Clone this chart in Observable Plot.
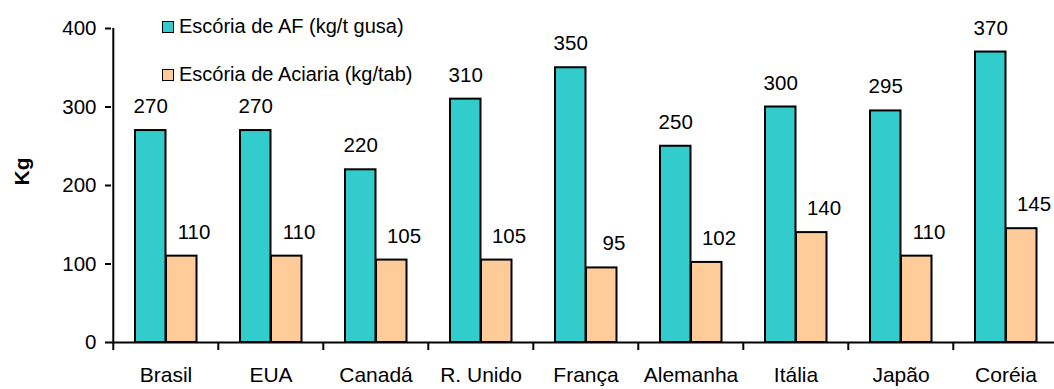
<!DOCTYPE html>
<html>
<head>
<meta charset="utf-8">
<script src="https://cdn.jsdelivr.net/npm/d3@7"></script>
<script src="https://cdn.jsdelivr.net/npm/@observablehq/plot@0.6"></script>
<style>
  html, body { margin: 0; padding: 0; background: #fff; overflow: hidden; }
  #wrap { position: relative; width: 1054px; height: 389px; font-family: "Liberation Sans", Arial, sans-serif; }
  .leg { position: absolute; left: 162px; display: flex; align-items: center; font-size: 20px; color: #000; white-space: nowrap; }
  .sw { width: 10px; height: 10px; border: 1.5px solid #000; margin-right: 5px; }
</style>
</head>
<body>
<div id="wrap"></div>
<script>
const countries = ["Brasil", "EUA", "Canadá", "R. Unido", "França", "Alemanha", "Itália", "Japão", "Coréia"];
const escoriaAF = [270, 270, 220, 310, 350, 250, 300, 295, 370];
const escoriaAciaria = [110, 110, 105, 105, 95, 102, 140, 110, 145];
const seriesNames = ["Escória de AF (kg/t gusa)", "Escória de Aciaria (kg/tab)"];
const seriesColors = ["#33cccc", "#ffcc99"];
const yTicks = [0, 100, 200, 300, 400];
const yLabel = "Kg";

const afData = countries.map((c, i) => ({country: c, value: escoriaAF[i]}));
const acData = countries.map((c, i) => ({country: c, value: escoriaAciaria[i]}));

const halfBand = (1060 - 111.3) / countries.length / 2;

const chart = Plot.plot({
  width: 1054,
  height: 389,
  marginLeft: 111,
  marginRight: 0,
  marginTop: 28,
  marginBottom: 47,
  style: {fontFamily: "'Liberation Sans', Arial, sans-serif", fontSize: "20px", color: "#000", background: "white", overflow: "visible"},
  x: {domain: countries, range: [111.3, 1060], padding: 0},
  y: {domain: [0, 400], ticks: yTicks},
  marks: [
    Plot.barY(afData, {x: "country", y: "value", fill: seriesColors[0], stroke: "#000", strokeWidth: 2, insetLeft: 22, insetRight: 52.5}),
    Plot.barY(acData, {x: "country", y: "value", fill: seriesColors[1], stroke: "#000", strokeWidth: 2, insetLeft: 53, insetRight: 21.5}),
    Plot.text(afData, {x: "country", y: "value", text: d => String(d.value), dx: -15.3, dy: -24, fontSize: 20.5}),
    Plot.text(acData, {x: "country", y: "value", text: d => String(d.value), dx: 28, dy: -24, fontSize: 20.5}),
    Plot.ruleY([0], {strokeWidth: 2}),
    Plot.ruleX([countries[0]], {dx: -halfBand, strokeWidth: 2}),
    Plot.axisY({ticks: yTicks, tickSize: 6, tickPadding: 9, label: null, strokeWidth: 2, fontSize: 20.5}),
    Plot.axisX({tickSize: 0, tickPadding: 25, label: null, fontSize: 21}),
    Plot.axisX({tickSize: 8, tickFormat: () => "", dx: -halfBand, label: null, strokeWidth: 2}),
    Plot.text([yLabel], {frameAnchor: "left", dx: -89, rotate: -90, fontWeight: "bold", fontSize: 21})
  ]
});

const wrap = document.getElementById("wrap");
wrap.appendChild(chart);
const tops = [15, 63];
seriesNames.forEach((name, i) => {
  const d = document.createElement("div");
  d.className = "leg";
  d.style.top = tops[i] + "px";
  const sw = document.createElement("span");
  sw.className = "sw";
  sw.style.background = seriesColors[i];
  const t = document.createElement("span");
  t.textContent = name;
  d.appendChild(sw);
  d.appendChild(t);
  wrap.appendChild(d);
});
</script>
</body>
</html>
